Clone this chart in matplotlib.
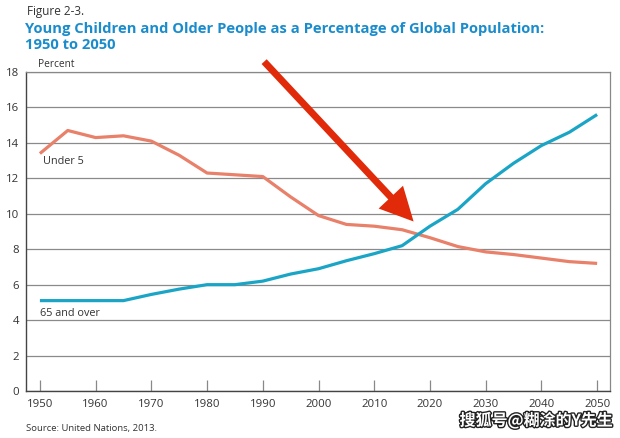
import matplotlib
matplotlib.use("Agg")
import matplotlib.pyplot as plt
import matplotlib.patheffects as pe
from matplotlib.patches import FancyArrowPatch

plt.rcParams['font.family'] = ['Open Sans', 'DejaVu Sans']

# データ
years = [1950, 1955, 1960, 1965, 1970, 1975, 1980, 1985, 1990, 1995, 2000,
         2005, 2010, 2015, 2020, 2025, 2030, 2035, 2040, 2045, 2050]
under5 = [13.4, 14.7, 14.3, 14.4, 14.1, 13.3, 12.3, 12.2, 12.1, 10.95, 9.9,
          9.4, 9.3, 9.1, 8.65, 8.15, 7.85, 7.7, 7.5, 7.3, 7.2]
over65 = [5.1, 5.1, 5.1, 5.1, 5.45, 5.75, 6.0, 6.0, 6.2, 6.6, 6.9,
          7.35, 7.75, 8.2, 9.3, 10.25, 11.7, 12.85, 13.85, 14.6, 15.6]
x_ticks = list(range(1950, 2051, 10))
y_ticks = list(range(0, 19, 2))

fig = plt.figure(figsize=(6.2, 4.38), dpi=100)
ax = fig.add_axes([0.0419, 0.1073, 0.9419, 0.7283])

ax.plot(years, under5, color='#e8806a', lw=2.3, solid_capstyle='butt', zorder=3)
ax.plot(years, over65, color='#1aa5c6', lw=2.3, solid_capstyle='butt', zorder=3)

ax.set_xlim(1947.5, 2052.3)
ax.set_ylim(0, 18)
ax.set_xticks(x_ticks)
ax.set_yticks(y_ticks)
ax.yaxis.grid(True, color='#8a8a8a', lw=0.9)
ax.set_axisbelow(True)
ax.tick_params(axis='x', direction='in', length=8, color='#888888', width=0.9,
               labelsize=8.2, pad=6, labelcolor='#333333')
ax.tick_params(axis='y', length=0, labelsize=8.2, pad=5, labelcolor='#333333')
for s in ['left', 'bottom']:
    ax.spines[s].set_color('#444444')
    ax.spines[s].set_linewidth(1.0)
for s in ['top', 'right']:
    ax.spines[s].set_color('#888888')
    ax.spines[s].set_linewidth(0.9)

ax.text(1950.6, 12.95, 'Under 5', fontsize=7.8, color='#333333', va='center')
ax.text(1950, 4.35, '65 and over', fontsize=7.8, color='#333333', va='center')

# タイトル類
fig.text(0.043, 0.974, 'Figure 2-3.', fontsize=8.5, color='#333333', va='center')
fig.text(0.040, 0.934, 'Young Children and Older People as a Percentage of Global Population:',
         fontsize=10.6, fontweight='bold', color='#1a8ccc', va='center')
fig.text(0.040, 0.897, '1950 to 2050', fontsize=10.6, fontweight='bold', color='#1a8ccc', va='center')
fig.text(0.061, 0.853, 'Percent', fontsize=7.3, color='#333333', va='center')
fig.text(0.042, 0.022, 'Source: United Nations, 2013.', fontsize=6.8, color='#333333', va='center')

# 赤い矢印
arrow = FancyArrowPatch((1989.9, 18.7), (2017.4, 9.45),
                        arrowstyle='simple,head_length=24,head_width=24,tail_width=5',
                        mutation_scale=1, color='#e02a0a', lw=0,
                        transform=ax.transData, clip_on=False, zorder=5)
fig.add_artist(arrow)

# 透かし
fig.text(0.865, 0.04, '搜狐号@糊涂的Y先生', fontsize=11.5, fontweight='bold', color='white',
         ha='center', va='center', family=['Noto Sans CJK SC', 'DejaVu Sans'],
         path_effects=[pe.withStroke(linewidth=2, foreground='#222222')])

fig.savefig('out.png', dpi=100)
